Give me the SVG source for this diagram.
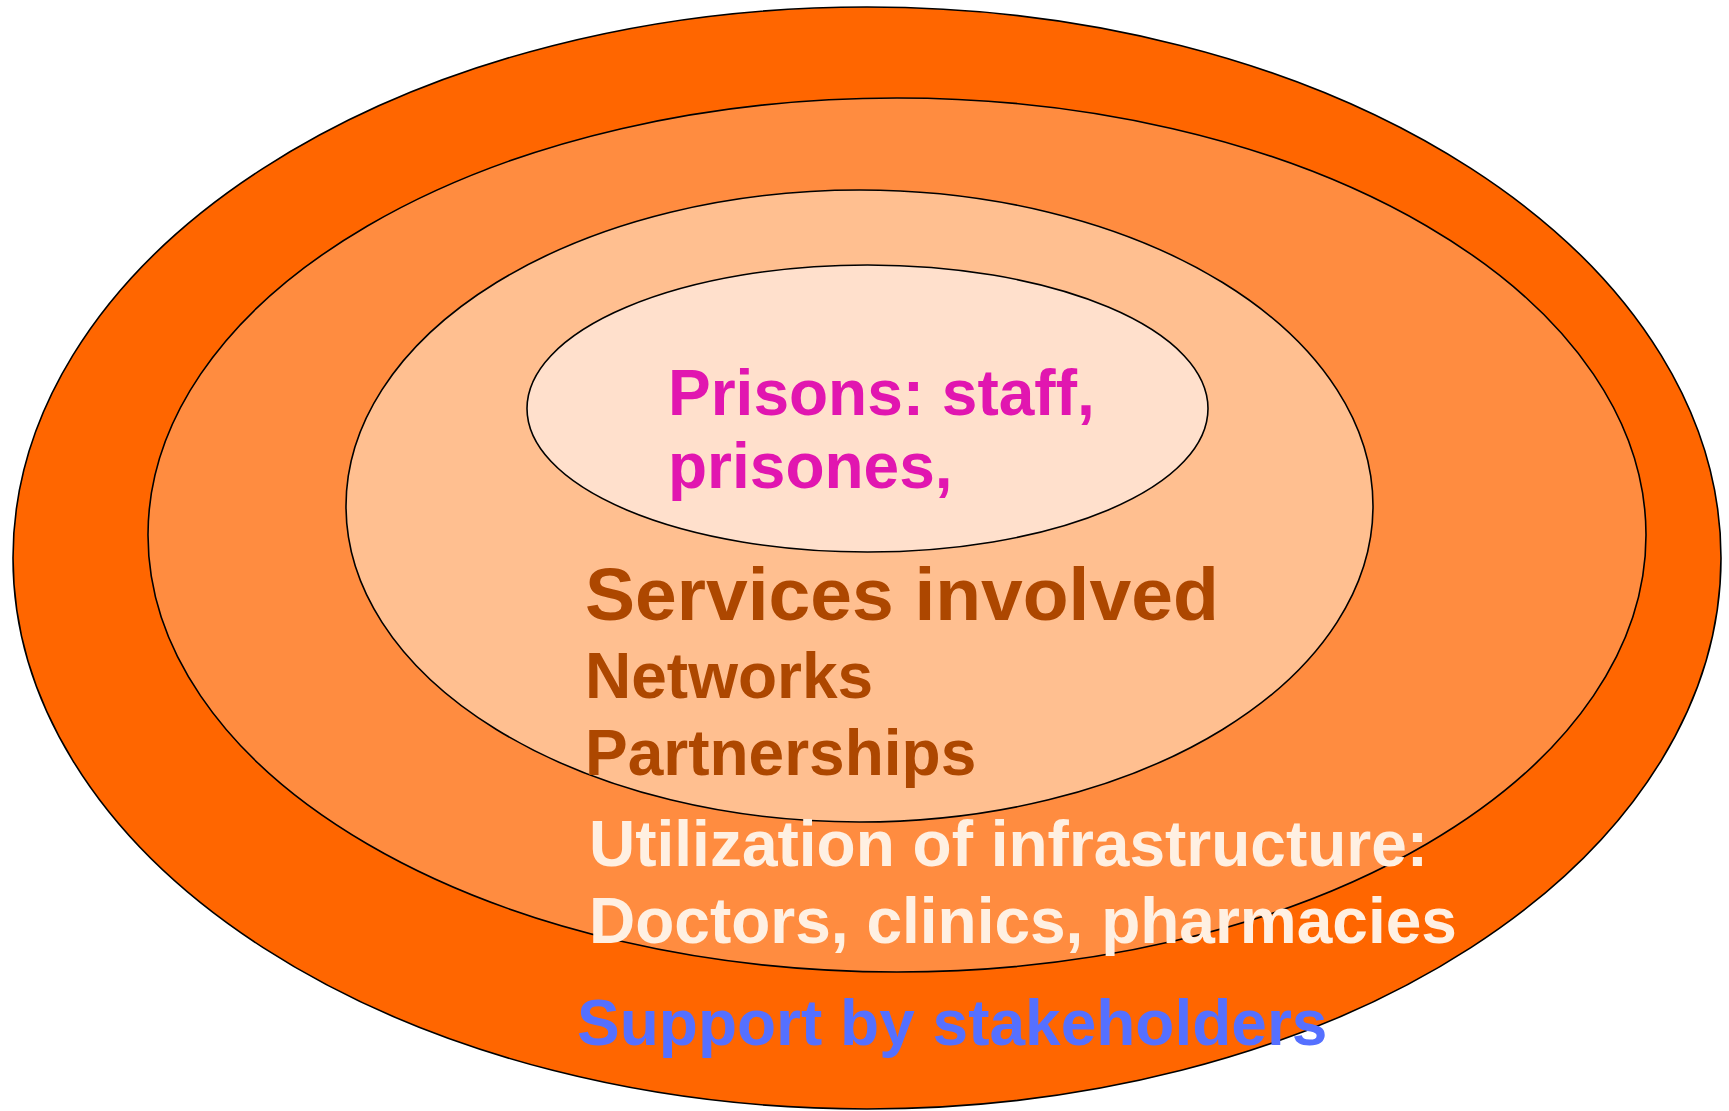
<svg xmlns="http://www.w3.org/2000/svg" width="1729" height="1111" viewBox="0 0 1729 1111">
<style>
.ring{stroke:#000;stroke-width:1.6}
.t{font-family:"Liberation Sans",Arial,sans-serif;font-weight:bold;font-size:64px}
.pink{fill:#E116B0}
.brown{fill:#AD4700}
.cream{fill:#FFF0E2}
.blue{fill:#5570FF}
</style>
<rect width="1729" height="1111" fill="#fff"/>
<g id="outer">
<ellipse class="ring" cx="867" cy="558" rx="854" ry="551" fill="#FF6600"/>
</g>
<g id="ring2">
<ellipse class="ring" cx="897" cy="535" rx="749" ry="437" fill="#FF8C40"/>
</g>
<g id="ring3">
<ellipse class="ring" cx="859.5" cy="506" rx="513.5" ry="316" fill="#FFBF90"/>
</g>
<g id="inner">
<ellipse class="ring" cx="867.5" cy="408.5" rx="340.5" ry="143.5" fill="#FFE0CC"/>
</g>
<g id="labels">
<text class="t pink" x="668" y="415">Prisons: staff,</text>
<text class="t pink" x="668" y="488">prisones,</text>
<text class="t brown" x="585" y="620" style="font-size:75px">Services involved</text>
<text class="t brown" x="585" y="698">Networks</text>
<text class="t brown" x="585" y="775">Partnerships</text>
<text class="t cream" x="589" y="866">Utilization of infrastructure:</text>
<text class="t cream" x="589" y="943">Doctors, clinics, pharmacies</text>
<text class="t blue" x="577" y="1045">Support by stakeholders</text>
</g>
<g id="connectors"></g>
</svg>
